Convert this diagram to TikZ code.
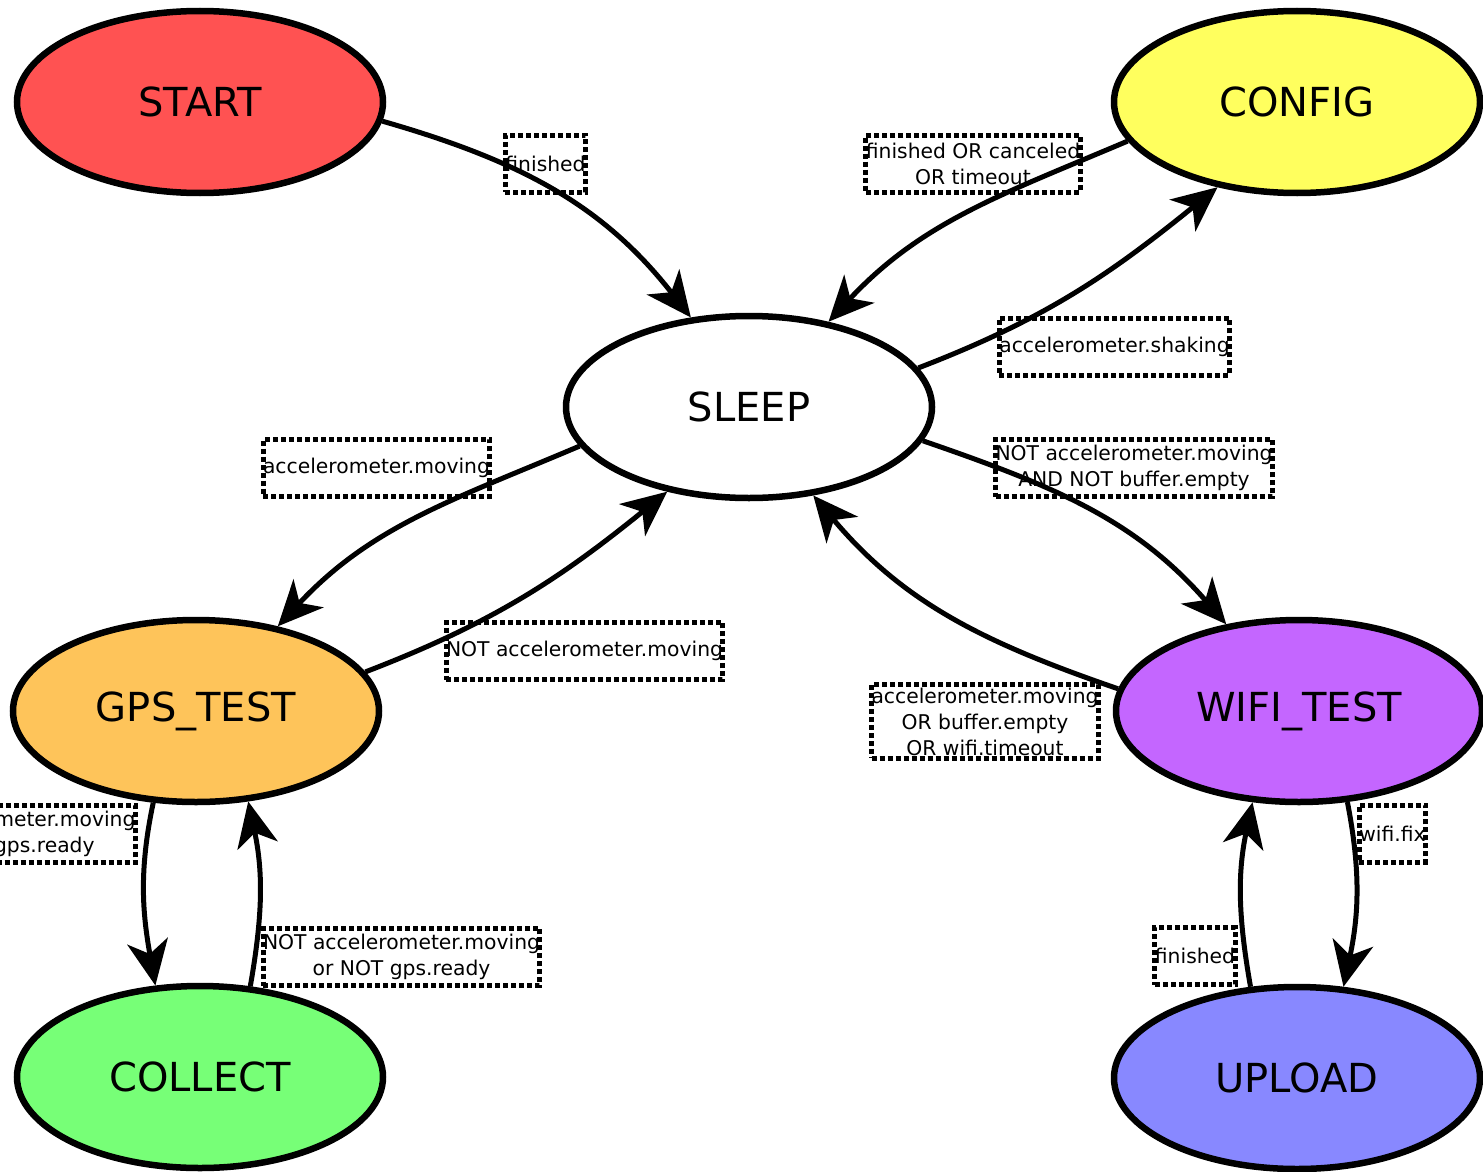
\documentclass[tikz,border=0pt]{standalone}
\usepackage{fontspec}
\setmainfont{DejaVu Sans}
\usetikzlibrary{shapes.geometric,arrows.meta}

\definecolor{cStart}{RGB}{255,82,82}
\definecolor{cConfig}{RGB}{255,255,94}
\definecolor{cGps}{RGB}{254,196,90}
\definecolor{cWifi}{RGB}{196,102,255}
\definecolor{cCollect}{RGB}{119,255,119}
\definecolor{cUpload}{RGB}{136,136,255}

\begin{document}
\begin{tikzpicture}[x=1pt,y=-1pt,
  state/.style={ellipse, draw, line width=6.5pt, minimum width=366pt,
    minimum height=182pt, inner sep=0pt, font=\fontsize{40}{48}\selectfont},
  cond/.style={draw, line width=5pt, dash pattern=on 5pt off 3pt,
    inner xsep=0pt, inner ysep=3pt, minimum height=57pt, align=center,
    font=\fontsize{20.3}{26}\selectfont},
  trans/.style={line width=5pt, -{Stealth[length=45pt,width=41pt,inset=13pt]}}]

\useasboundingbox (0,0) rectangle (1483,1172);
\clip (0,0) rectangle (1483,1172);

% states
\node[state, fill=cStart]   (start)   at (200,102)  {START};
\node[state, fill=cConfig]  (config)  at (1297,102) {CONFIG};
\node[state, fill=white]    (sleep)   at (749,407)  {SLEEP};
\node[state, fill=cGps]     (gps)     at (196,711)  {GPS\_TEST};
\node[state, fill=cWifi]    (wifi)    at (1299,711) {WIFI\_TEST};
\node[state, fill=cCollect] (collect) at (200,1077) {COLLECT};
\node[state, fill=cUpload]  (upload)  at (1297,1078) {UPLOAD};

% transitions
\draw[trans] (start.-6)    to[out=-16, in=128] (sleep.123.5);
\draw[trans] (config.193)  to[out=203, in=47]  (sleep.47.5);
\draw[trans] (sleep.13)    to[out=21,  in=219] (config.227);
\draw[trans] (sleep.193)   to[out=203, in=47]  (gps.46.4);
\draw[trans] (gps.13)      to[out=21,  in=219] (sleep.226.4);
\draw[trans] (sleep.-11.4) to[out=-19, in=131] (wifi.130);
\draw[trans] (wifi.173)    to[out=161, in=-50] (sleep.-54.6);
\draw[trans] (gps.-115.6)  to[out=-102, in=100] (collect.116.6);
\draw[trans] (collect.61.7) to[out=80, in=-78] (gps.-60.5);
\draw[trans] (wifi.-62.4)  to[out=-79, in=78]  (upload.63.2);
\draw[trans] (upload.117)  to[out=100, in=-102] (wifi.-117);

% conditions
\node[cond] (cFinished)  at (545.5,163.5) {finished};
\node[cond] (cCfgDone)   at (973,163.5)   {finished OR canceled\\OR timeout};
\node[cond] (cShaking)   at (1114.5,346.5) {accelerometer.shaking};
\node[cond] (cMoving)    at (376.5,468)   {accelerometer.moving};
\node[cond] (cToWifi)    at (1134,468)    {NOT accelerometer.moving\\AND NOT buffer.empty};
\node[cond] (cStill)     at (584.5,651)   {NOT accelerometer.moving};
\node[cond] (cWifiBack)  at (985,721.5)   {accelerometer.moving\\OR buffer.empty\\OR wifi.timeout};
\node[cond] (cCollect)   at (22,834)      {accelerometer.moving\\and gps.ready};
\node[cond] (cNoCollect) at (401.5,957)   {NOT accelerometer.moving\\or NOT gps.ready};
\node[cond] (cWifiFix)   at (1392.5,833.5) {wifi.fix};
\node[cond] (cUploaded)  at (1195,956)    {finished};
\end{tikzpicture}
\end{document}
